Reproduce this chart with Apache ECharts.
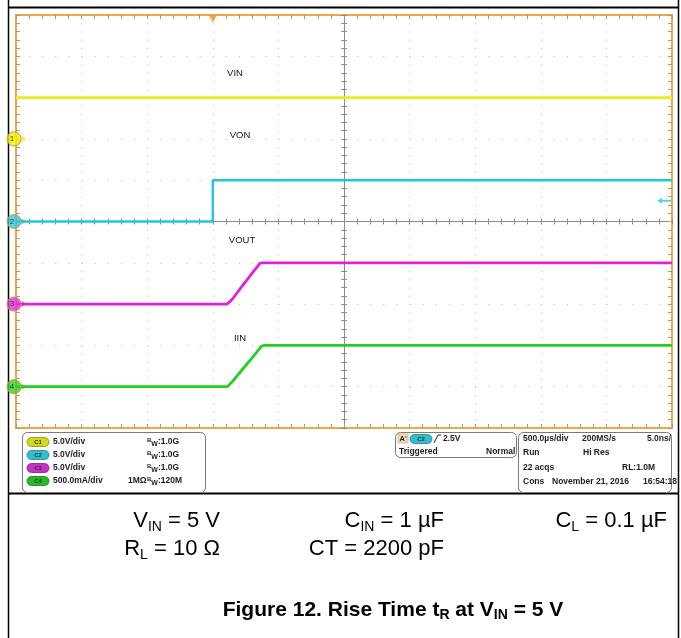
<!DOCTYPE html>
<html><head><meta charset="utf-8">
<script src="https://cdn.jsdelivr.net/npm/echarts@6/dist/echarts.min.js"></script>
<style>html,body{margin:0;padding:0;background:#fff}#c{width:681px;height:638px}</style>
</head><body><div id="c"></div>
<script>
// ---------------- data ----------------
// time in microseconds relative to the trigger (C2 rising edge), 500 µs/div
const timeMin = -1500;
const timeMax = 3500;
const timeStep = 500;
// vertical screen in divisions, centre = 0
const divMin = -5;
const divMax = 5;

const channelNames = ['VIN', 'VON', 'VOUT', 'IIN'];
const channelNumbers = ['1', '2', '3', '4'];
const channelScale = [5, 5, 5, 0.5];      // V/div, V/div, V/div, A/div
const channelOffset = [2, 0, -2, -4];     // ground marker position, divisions
const channelColors = ['#ecec1e', '#22c6d8', '#e020dc', '#22d022'];
const markerColors = ['#f2f200', '#30c8dc', '#e030e0', '#2cd42c'];
const triggerLevel = 2.5;                 // V on C2

const vinTime = [-1500, -1000, -500, 0, 500, 1000, 1500, 2000, 2500, 3000, 3500];
const vinValue = [5.0, 5.0, 5.0, 5.0, 5.0, 5.0, 5.0, 5.0, 5.0, 5.0, 5.0];

const vonTime = [-1500, 0, 0, 3500];
const vonValue = [0, 0, 5.0, 5.0];

const voutTime = [-1500, 110, 125, 150, 200, 250, 300, 340, 360, 380, 3500];
const voutValue = [0, 0, 0.12, 0.62, 1.68, 2.72, 3.75, 4.55, 4.95, 5.0, 5.0];

const iinTime = [-1500, 110, 125, 150, 200, 250, 300, 350, 370, 390, 3500];
const iinValue = [0, 0, 0.012, 0.062, 0.16, 0.255, 0.35, 0.45, 0.49, 0.5, 0.5];

// ---------------- chart ----------------
const FONT = '"Liberation Sans", Arial, Helvetica, sans-serif';
const chart = echarts.init(document.getElementById('c'));

const GRID = { left: 16, top: 15, width: 656, height: 413 };
const tickColor = '#9a9a9a';

function toDiv(times, values, ch) {
  return times.map((t, i) => [t, values[i] / channelScale[ch] + channelOffset[ch]]);
}

function xAx(extra) {
  return Object.assign({
    type: 'value', min: timeMin, max: timeMax, interval: timeStep,
    axisLabel: { show: false },
    axisLine: { show: false, onZero: false },
    axisTick: { show: true, inside: true, length: 4, lineStyle: { color: tickColor } },
    minorTick: { show: true, splitNumber: 5, length: 4, lineStyle: { color: tickColor } },
    splitLine: { show: false }
  }, extra);
}
function yAx(extra) {
  return Object.assign({
    type: 'value', min: divMin, max: divMax, interval: 1,
    axisLabel: { show: false },
    axisLine: { show: false, onZero: false },
    axisTick: { show: true, inside: true, length: 4, lineStyle: { color: tickColor } },
    minorTick: { show: true, splitNumber: 5, length: 4, lineStyle: { color: tickColor } },
    splitLine: { show: false }
  }, extra);
}
const centreLine = { show: true, onZero: false, lineStyle: { color: '#8a8a8a', width: 1 } };

const xAxis = [
  xAx({ position: 'bottom', splitLine: { show: true, lineStyle: { color: '#bcbcbc', width: 1, type: [1, 7.26] } } }),
  xAx({ position: 'top' }),
  xAx({ position: 'bottom', offset: -GRID.height / 2, axisLine: centreLine,
        axisTick: { show: true, inside: true, length: 3, lineStyle: { color: '#8a8a8a' } },
        minorTick: { show: true, splitNumber: 5, length: 3, lineStyle: { color: '#8a8a8a' } } }),
  xAx({ position: 'bottom', offset: -GRID.height / 2,
        axisTick: { show: true, inside: false, length: 3, lineStyle: { color: '#8a8a8a' } },
        minorTick: { show: true, splitNumber: 5, length: 3, lineStyle: { color: '#8a8a8a' } } })
];
const yAxis = [
  yAx({ position: 'left', splitLine: { show: true, lineStyle: { color: '#bcbcbc', width: 1, type: [1, 12.12] } } }),
  yAx({ position: 'right' }),
  yAx({ position: 'left', offset: -GRID.width / 2, axisLine: centreLine,
        axisTick: { show: true, inside: true, length: 3, lineStyle: { color: '#8a8a8a' } },
        minorTick: { show: true, splitNumber: 5, length: 3, lineStyle: { color: '#8a8a8a' } } }),
  yAx({ position: 'left', offset: -GRID.width / 2,
        axisTick: { show: true, inside: false, length: 3, lineStyle: { color: '#8a8a8a' } },
        minorTick: { show: true, splitNumber: 5, length: 3, lineStyle: { color: '#8a8a8a' } } })
];

const traces = [
  toDiv(vinTime, vinValue, 0),
  toDiv(vonTime, vonValue, 1),
  toDiv(voutTime, voutValue, 2),
  toDiv(iinTime, iinValue, 3)
];

const series = traces.map((d, i) => ({
  type: 'line', name: channelNames[i], data: d, showSymbol: false, symbol: 'none',
  lineStyle: { color: channelColors[i], width: i === 1 ? 2.4 : 2.8 },
  z: 3 + i, animation: false, silent: true
}));

// ground-level markers on the left edge
series.push({
  type: 'scatter', clip: false, animation: false, silent: true, z: 10,
  symbol: 'path://M0,0 L6,3 L0,6 Z', symbolSize: [5, 6], symbolOffset: [8, 0],
  data: channelOffset.map((o, i) => ({ value: [timeMin, o], itemStyle: { color: channelColors[i] } }))
});
series.push({
  type: 'scatter', clip: false, animation: false, silent: true, z: 11,
  symbol: 'circle', symbolSize: 14, symbolOffset: [-2, 0],
  data: channelOffset.map((o, i) => ({
    value: [timeMin, o],
    itemStyle: { color: markerColors[i], borderColor: '#c89a40', borderWidth: 1.2 },
    label: { show: true, formatter: channelNumbers[i], position: 'inside', offset: [-2, 0],
             fontSize: 8, fontFamily: FONT, color: '#222' }
  }))
});
// trigger position marker (top) and trigger level marker (right)
series.push({
  type: 'scatter', clip: false, animation: false, silent: true, z: 11,
  symbol: 'triangle', symbolRotate: 180, symbolSize: [8, 7], symbolOffset: [0, 4],
  itemStyle: { color: '#f29a1e' },
  data: [[0, divMax]]
});
series.push({
  type: 'scatter', clip: false, animation: false, silent: true, z: 11,
  symbol: 'path://M0,3 L5,0 L5,2 L14,2 L14,4 L5,4 L5,6 Z', symbolSize: [14, 6], symbolOffset: [-8, 0],
  itemStyle: { color: '#30c8dc' },
  data: [[timeMax, triggerLevel / channelScale[1] + channelOffset[1]]]
});

// ---------------- decorations ----------------
const g = [];
function line(x1, y1, x2, y2, w, c) {
  g.push({ type: 'line', silent: true, shape: { x1, y1, x2, y2 }, style: { stroke: c || '#000', lineWidth: w || 1 } });
}
function txt(x, y, text, opts) {
  g.push({ type: 'text', silent: true, x, y, z: 20, style: Object.assign({
    text, font: 'bold 8.5px ' + FONT, fill: '#1c1c1c', align: 'left', verticalAlign: 'middle'
  }, opts || {}) });
}
function box(x, y, w, h) {
  g.push({ type: 'rect', silent: true, shape: { x, y, width: w, height: h, r: 5 },
           style: { fill: '#fff', stroke: '#7a7a7a', lineWidth: 1 } });
}
function pill(x, y, label, color, border) {
  g.push({ type: 'rect', silent: true, z: 20, shape: { x, y: y - 4.5, width: 22, height: 9, r: 4.5 },
           style: { fill: color, stroke: border, lineWidth: 0.8 } });
  txt(x + 11, y + 0.5, label, { font: 'bold 6px ' + FONT, align: 'center', fill: '#333' });
}

// page frame
line(8.5, 0, 8.5, 638, 1.5);
line(678.5, 0, 678.5, 638, 1.5);
line(8, 7.5, 679, 7.5, 2);
line(8, 493.5, 679, 493.5, 2);

// trace labels
txt(235, 73, 'VIN', { font: '9.5px ' + FONT, align: 'center', fill: '#111' });
txt(240, 135, 'VON', { font: '9.5px ' + FONT, align: 'center', fill: '#111' });
txt(242, 240, 'VOUT', { font: '9.5px ' + FONT, align: 'center', fill: '#111' });
txt(240, 338, 'IIN', { font: '9.5px ' + FONT, align: 'center', fill: '#111' });

// info panel
box(22.5, 432.5, 183, 60);
box(395.5, 432.5, 121, 25);
box(518.5, 432.5, 153, 60);
const pillColors = ['#d8d818', '#30bfd0', '#c830c8', '#28b828'];
const pillBorders = ['#8a8a10', '#1a8090', '#801a80', '#1a7a1a'];
const perDiv = ['5.0V/div', '5.0V/div', '5.0V/div', '500.0mA/div'];
const bw = ['1.0G', '1.0G', '1.0G', '120M'];
const bwRich = {
  b: { fontSize: 6, fontWeight: 'bold', fontFamily: FONT, padding: [0, 0, 4, 0], fill: '#1c1c1c' },
  w: { fontSize: 7, fontWeight: 'bold', fontFamily: FONT, padding: [4, 0, 0, 0], fill: '#1c1c1c' },
  n: { fontSize: 8.5, fontWeight: 'bold', fontFamily: FONT, fill: '#1c1c1c' }
};
[442, 455, 468, 481].forEach((y, i) => {
  pill(27, y, 'C' + (i + 1), pillColors[i], pillBorders[i]);
  txt(53, y, perDiv[i]);
  txt(147, y, '{b|B}{w|W}{n|:' + bw[i] + '}', { rich: bwRich });
});
txt(128, 481, '1MΩ');

// trigger box
g.push({ type: 'rect', silent: true, z: 19, shape: { x: 398, y: 434, width: 10, height: 9 },
         style: { fill: '#f3dcb4', stroke: '#c8a060', lineWidth: 0.6 } });
txt(399.5, 439, "A'", { font: 'bold 7.5px ' + FONT });
pill(410, 439, 'C2', pillColors[1], pillBorders[1]);
g.push({ type: 'polyline', silent: true, z: 20, shape: { points: [[434, 443], [438, 435], [441, 435]] },
         style: { stroke: '#222', lineWidth: 1, fill: null } });
txt(443, 439, '2.5V');
txt(399, 452, 'Triggered');
txt(486, 452, 'Normal');

// timebase box
txt(523, 439, '500.0µs/div');
txt(582, 439, '200MS/s');
txt(647, 439, '5.0ns/');
txt(523, 453, 'Run');
txt(583, 453, 'Hi Res');
txt(523, 468, '22 acqs');
txt(622, 468, 'RL:1.0M');
txt(523, 482, 'Cons');
txt(552, 482, 'November 21, 2016');
txt(643, 482, '16:54:18');

// conditions text
const condRich = {
  m: { fontSize: 22, fontFamily: FONT, lineHeight: 24, fill: '#000' },
  s: { fontSize: 14, fontFamily: FONT, padding: [12, 0, 0, 0], fill: '#000' }
};
function cond(x, y, text) {
  g.push({ type: 'text', silent: true, x, y, style: { text, rich: condRich, align: 'right', verticalAlign: 'middle' } });
}
cond(220, 521, '{m|V}{s|IN}{m| = 5 V}');
cond(444, 521, '{m|C}{s|IN}{m| = 1 µF}');
cond(667, 521, '{m|C}{s|L}{m| = 0.1 µF}');
cond(220, 549, '{m|R}{s|L}{m| = 10 Ω}');
cond(444, 549, '{m|CT = 2200 pF}');

const titleRich = {
  m: { fontSize: 21, fontWeight: 'bold', fontFamily: FONT, lineHeight: 24, fill: '#000' },
  s: { fontSize: 14, fontWeight: 'bold', fontFamily: FONT, padding: [11, 0, 0, 0], fill: '#000' }
};
g.push({ type: 'text', silent: true, x: 393, y: 610, style: {
  text: '{m|Figure 12. Rise Time t}{s|R}{m| at V}{s|IN}{m| = 5 V}', rich: titleRich, align: 'center', verticalAlign: 'middle' } });

chart.setOption({
  animation: false,
  backgroundColor: '#ffffff',
  grid: Object.assign({ show: true, borderColor: '#f2a640', borderWidth: 2, backgroundColor: '#ffffff', containLabel: false }, GRID),
  xAxis, yAxis, series,
  graphic: g
});
</script>
</body></html>
